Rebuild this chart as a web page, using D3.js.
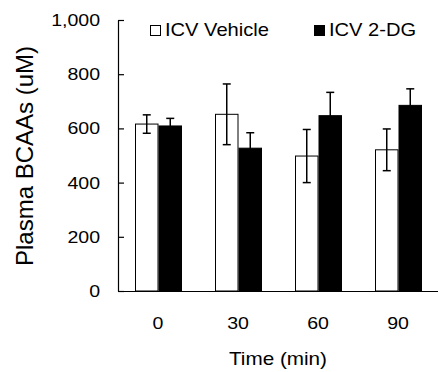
<!DOCTYPE html>
<html>
<head>
<meta charset="utf-8">
<script src="https://cdn.jsdelivr.net/npm/d3@7"></script>
<style>
  html, body { margin: 0; padding: 0; background: #fff; }
  svg { display: block; font-family: "Liberation Sans", Arial, sans-serif; }
</style>
</head>
<body>
<svg id="chart"></svg>
<script>
// data
const times    = ['0', '30', '60', '90'];
const series   = ['ICV Vehicle', 'ICV 2-DG'];
const vehicle  = [616, 652, 498, 521];
const vehErr   = [34, 112, 98, 77];
const dg       = [609, 527, 647, 685];
const dgErr    = [28, 57, 86, 61];
const yTicks   = [0, 200, 400, 600, 800, 1000];

const W = 438, H = 372;
const svg = d3.select('#chart').attr('width', W).attr('height', H);

const STRETCH = 1.15;
// the reference text is a little wider than Arial, widen it around its anchor
function widen(sel) {
    sel.each(function () {
        const t = d3.select(this);
        const x = +t.attr('x') || 0, y = +t.attr('y') || 0;
        t.attr('x', 0).attr('y', 0)
            .attr('transform', `translate(${x},${y}) scale(${STRETCH},1)`);
    });
}

const x = d3.scaleBand().domain(times).range([118, 438]);
const xs = d3.scaleBand().domain(series).range([17, 64]);
const y = d3.scaleLinear().domain([0, 1000]).range([291, 20]);

const rows = times.map((t, i) => [
    { t, s: series[0], v: vehicle[i], e: vehErr[i], fill: '#fff' },
    { t, s: series[1], v: dg[i],      e: dgErr[i],  fill: '#000' },
]).flat();

// bars
svg.append('g').selectAll('rect')
    .data(rows)
    .join('rect')
    .attr('x', d => x(d.t) + xs(d.s) + 0.5)
    .attr('y', d => y(d.v))
    .attr('width', xs.bandwidth() - 1)
    .attr('height', d => y(0) - y(d.v))
    .attr('fill', d => d.fill)
    .attr('stroke', '#000')
    .attr('stroke-width', 1);

// error bars
const eg = svg.append('g').attr('stroke', '#000').attr('stroke-width', 1.5);
rows.forEach(d => {
    const cx = x(d.t) + xs(d.s) + xs.bandwidth() / 2;
    eg.append('line').attr('x1', cx).attr('x2', cx)
        .attr('y1', y(d.v + d.e)).attr('y2', y(d.v - d.e));
    [d.v + d.e, d.v - d.e].forEach(v => {
        eg.append('line').attr('x1', cx - 4).attr('x2', cx + 4)
            .attr('y1', y(v)).attr('y2', y(v));
    });
});

// y axis, ticks point inward
const yAxis = svg.append('g')
    .attr('transform', 'translate(118,0)')
    .call(d3.axisLeft(y).tickValues(yTicks).tickSizeInner(-6).tickSizeOuter(0)
        .tickPadding(18).tickFormat(d3.format(',')));
yAxis.select('.domain').attr('stroke', '#000').attr('stroke-width', 1.2);
yAxis.selectAll('.tick line').attr('stroke', '#000').attr('stroke-width', 1.2);
yAxis.selectAll('.tick text')
    .attr('font-size', 17).attr('fill', '#000')
    .attr('font-family', '"Liberation Sans", Arial, sans-serif')
    .call(widen);

// x axis, no tick marks
const xAxis = svg.append('g')
    .attr('transform', `translate(0,${y(0)})`)
    .call(d3.axisBottom(x).tickSize(0).tickPadding(26));
xAxis.select('.domain').attr('stroke', '#000').attr('stroke-width', 1.2);
xAxis.selectAll('.tick text')
    .attr('font-size', 17).attr('fill', '#000')
    .attr('font-family', '"Liberation Sans", Arial, sans-serif')
    .call(widen);

// axis titles
svg.append('text')
    .attr('x', 278).attr('y', 365)
    .attr('text-anchor', 'middle').attr('font-size', 18)
    .text('Time (min)')
    .call(widen);

svg.append('text')
    .attr('transform', 'translate(33,156) rotate(-90)')
    .attr('text-anchor', 'middle').attr('font-size', 24)
    .text('Plasma BCAAs (uM)');

// legend
const legend = [
    { label: series[0], fill: '#fff', lx: 150 },
    { label: series[1], fill: '#000', lx: 314 },
];
legend.forEach(l => {
    svg.append('rect')
        .attr('x', l.lx + 0.5).attr('y', 25.5).attr('width', 10).attr('height', 10)
        .attr('fill', l.fill).attr('stroke', '#000').attr('stroke-width', 1);
    svg.append('text')
        .attr('x', l.lx + 15).attr('y', 36)
        .attr('font-size', 17.5)
        .text(l.label)
        .call(widen);
});
</script>
</body>
</html>
